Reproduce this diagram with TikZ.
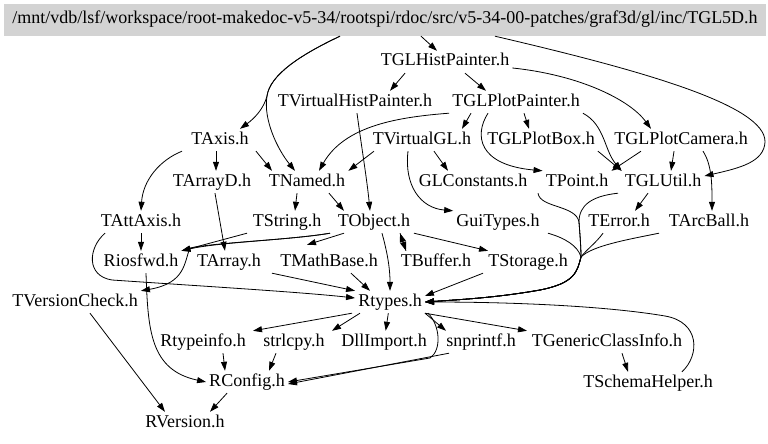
\documentclass[tikz,border=0pt]{standalone}
\usepackage{fontspec}
\setmainfont{Liberation Serif}
\usetikzlibrary{arrows.meta}
\definecolor{rootgray}{RGB}{211,211,211}
\begin{document}
\begin{tikzpicture}[x=1pt,y=-1pt,
  hdr/.style={font=\fontsize{18pt}{20pt}\selectfont, text height=12pt, text depth=4pt, inner xsep=3pt, inner ysep=3pt},
  dep/.style={-{Triangle[length=9pt,width=6pt]}, line width=0.8pt}]
\useasboundingbox (0,0) rectangle (768,444);
\node[hdr, fill=rootgray, minimum width=762pt, minimum height=32pt] (root) at (385,20) {/mnt/vdb/lsf/workspace/root-makedoc-v5-34/rootspi/rdoc/src/v5-34-00-patches/graf3d/gl/inc/TGL5D.h};
\node[hdr] (histp) at (445,62) {TGLHistPainter.h};
\node[hdr] (vhist) at (355,102) {TVirtualHistPainter.h};
\node[hdr] (plotp) at (516,102) {TGLPlotPainter.h};
\node[hdr] (axis) at (220,140) {TAxis.h};
\node[hdr] (vgl) at (422,140) {TVirtualGL.h};
\node[hdr] (plotbox) at (541,140) {TGLPlotBox.h};
\node[hdr] (plotcam) at (681,140) {TGLPlotCamera.h};
\node[hdr] (arrayd) at (212,182) {TArrayD.h};
\node[hdr] (named) at (307,182) {TNamed.h};
\node[hdr] (glconst) at (473,182) {GLConstants.h};
\node[hdr] (tpoint) at (577,182) {TPoint.h};
\node[hdr] (glutil) at (663,182) {TGLUtil.h};
\node[hdr] (attaxis) at (141,222) {TAttAxis.h};
\node[hdr] (tstring) at (287,222) {TString.h};
\node[hdr] (tobject) at (374,222) {TObject.h};
\node[hdr] (guitypes) at (498,222) {GuiTypes.h};
\node[hdr] (terror) at (619,222) {TError.h};
\node[hdr] (arcball) at (709,222) {TArcBall.h};
\node[hdr] (riosfwd) at (141,262) {Riosfwd.h};
\node[hdr] (tarray) at (229,262) {TArray.h};
\node[hdr] (mathbase) at (329,262) {TMathBase.h};
\node[hdr] (tbuffer) at (436,262) {TBuffer.h};
\node[hdr] (storage) at (528,262) {TStorage.h};
\node[hdr] (vcheck) at (75,302) {TVersionCheck.h};
\node[hdr] (rtypes) at (390,302) {Rtypes.h};
\node[hdr] (rtinfo) at (203,342) {Rtypeinfo.h};
\node[hdr] (strlcpy) at (294,342) {strlcpy.h};
\node[hdr] (dllimp) at (384,342) {DllImport.h};
\node[hdr] (snpr) at (481,342) {snprintf.h};
\node[hdr] (gcinfo) at (607,342) {TGenericClassInfo.h};
\node[hdr] (schema) at (648,383) {TSchemaHelper.h};
\node[hdr] (rconfig) at (247,382) {RConfig.h};
\node[hdr] (rversion) at (185,423) {RVersion.h};
\coordinate (merge) at (581,257);

% from TGL5D.h
\draw[dep] ([xshift=36pt]root.south) -- ([xshift=-8pt]histp.north);
\draw[dep] ([xshift=-45pt]root.south) .. controls (300,55) and (270,75) .. (267,96) .. controls (264,108) and (255,118) .. ([xshift=20pt]axis.north);
\draw[dep] ([xshift=-45pt]root.south) .. controls (300,55) and (270,75) .. (267,96) .. controls (263,120) and (278,150) .. ([xshift=-12pt]named.north);
\draw[dep] ([xshift=110pt]root.south) .. controls (640,70) and (766,105) .. (765,142) .. controls (764,162) and (740,168) .. ([yshift=6pt]glutil.east);

\draw[dep] ([xshift=-40pt]histp.south) -- ([xshift=35pt]vhist.north);
\draw[dep] ([xshift=20pt]histp.south) -- ([xshift=-30pt]plotp.north);
\draw[dep] ([yshift=-6pt]histp.east) .. controls (580,75) and (630,100) .. ([xshift=-30pt]plotcam.north);
\draw[dep] ([xshift=2pt]vhist.south) .. controls (362,150) and (367,180) .. ([xshift=-4pt]tobject.north);

% TGLPlotPainter.h
\draw[dep] (plotp.south west) .. controls (400,117) and (345,125) .. ([xshift=12pt]named.north);
\draw[dep] ([xshift=-45pt]plotp.south) -- ([xshift=40pt]vgl.north);
\draw[dep] ([xshift=8pt]plotp.south) -- ([xshift=-12pt]plotbox.north);
\draw[dep] ([xshift=-28pt]plotp.south) .. controls (474,135) and (478,165) .. (tpoint.north west);
\draw[dep] (plotp.south east) .. controls (605,125) and (604,150) .. (glutil.north west);
\draw[dep] (plotbox.south east) -- (glutil.north west);
\draw[dep] ([xshift=-40pt]plotcam.south) -- (tpoint.north east);
\draw[dep] ([xshift=-7pt]plotcam.south) -- ([xshift=8pt]glutil.north);
\draw[dep] ([xshift=22pt]plotcam.south) .. controls (712,165) and (712,185) .. ([xshift=3pt]arcball.north);

\draw[dep] ([xshift=-48pt]vgl.south) -- (named.north east);
\draw[dep] ([xshift=12pt]vgl.south) -- ([xshift=-25pt]glconst.north);
\draw[dep] ([xshift=-14pt]vgl.south) .. controls (404,185) and (420,208) .. (guitypes.north west);

\draw[dep] ([xshift=-4pt]axis.south) -- ([xshift=4pt]arrayd.north);
\draw[dep] ([xshift=36pt]axis.south) -- ([xshift=-35pt]named.north);
\draw[dep] ([xshift=-38pt]axis.south) .. controls (160,160) and (143,180) .. (attaxis.north);
\draw[dep] ([xshift=3pt]arrayd.south) -- ([xshift=-4pt]tarray.north);
\draw[dep] ([xshift=-10pt]named.south) -- ([xshift=8pt]tstring.north);
\draw[dep] ([xshift=22pt]named.south) -- ([xshift=-30pt]tobject.north);

% TString.h, TObject.h
\draw[dep] ([xshift=-40pt]tstring.south) -- (riosfwd.north east);
\draw[dep] ([xshift=-44pt]tobject.south) .. controls (290,240) and (220,242) .. (riosfwd.north east);
\draw[dep] ([xshift=-30pt]tobject.south) -- ([xshift=-22pt,yshift=6pt]mathbase.north);
\draw[dep] ([xshift=-44pt]tobject.south) .. controls (290,240) and (220,242) .. (190,248) .. controls (184,262) and (186,283) .. (vcheck.north east);
\draw[dep] ([xshift=8pt]tobject.south) .. controls (388,255) and (390,270) .. (rtypes.north);
\draw[dep] ([xshift=26pt]tobject.south) -- ([xshift=-30pt]tbuffer.north);
\draw[dep] ([xshift=-30pt]tbuffer.north) -- ([xshift=26pt]tobject.south);
\draw[dep] ([xshift=40pt]tobject.south) -- ([xshift=-40pt]storage.north);

\draw[dep] (attaxis) -- (riosfwd);
\draw[dep] ([xshift=-36pt]attaxis.south) .. controls (88,248) and (86,276) .. (112,280) .. controls (200,286) and (300,292) .. ([yshift=4pt]rtypes.west);
\draw[dep] ([xshift=43pt]tarray.south) -- (rtypes.north west);
\draw[dep] ([xshift=22pt]mathbase.south) -- ([xshift=-20pt]rtypes.north);
\draw[dep] ([xshift=-45pt]storage.south) -- ([yshift=6pt]rtypes.east);

% bundle into Rtypes.h
\draw[dep] ([xshift=-39pt]tpoint.south) .. controls (540,208) and (576,205) .. (579,222) .. controls (580,235) and (581,248) .. (merge) .. controls (577,272) and (575,283) .. (540,290) .. controls (500,297) and (470,299) .. (rtypes.east);
\draw[dep] ([xshift=-45pt]glutil.south) .. controls (592,196) and (579,205) .. (579,222) .. controls (580,235) and (581,248) .. (merge) .. controls (577,272) and (575,283) .. (540,290) .. controls (500,297) and (470,299) .. (rtypes.east);
\draw[dep] ([xshift=50pt]guitypes.south) .. controls (565,238) and (578,246) .. (merge) .. controls (577,272) and (575,283) .. (540,290) .. controls (500,297) and (470,299) .. (rtypes.east);
\draw[dep] ([xshift=-16pt]terror.south) .. controls (596,243) and (586,250) .. (merge) .. controls (577,272) and (575,283) .. (540,290) .. controls (500,297) and (470,299) .. (rtypes.east);
\draw[dep] ([xshift=-50pt]arcball.south) .. controls (625,240) and (592,246) .. (merge) .. controls (577,272) and (575,283) .. (540,290) .. controls (500,297) and (470,299) .. (rtypes.east);
\draw[dep] ([xshift=-15pt]glutil.south) -- ([xshift=16pt]terror.north);

\draw[dep] ([xshift=5pt]riosfwd.south) .. controls (148,330) and (150,370) .. (rconfig.west);
\draw[dep] ([xshift=15pt]vcheck.south) -- ([xshift=-20pt]rversion.north);

% from Rtypes.h
\draw[dep] ([xshift=-38pt]rtypes.south) -- ([xshift=50pt]rtinfo.north);
\draw[dep] ([xshift=-30pt]rtypes.south) -- ([xshift=38pt]strlcpy.north);
\draw[dep] (rtypes) -- (dllimp);
\draw[dep] ([xshift=35pt]rtypes.south) -- ([xshift=-35pt]snpr.north);
\draw[dep] (rtypes.south east) -- ([xshift=-80pt]gcinfo.north);
\draw[dep] ([xshift=38pt]rtypes.south) .. controls (440,325) and (442,350) .. (430,358) -- (rconfig.east);
\draw[dep] ([xshift=-32pt]snpr.south) -- ([yshift=-2pt]rconfig.east);

\draw[dep] ([xshift=20pt]rtinfo.south) -- ([xshift=-22pt]rconfig.north);
\draw[dep] ([xshift=-18pt]strlcpy.south) -- ([xshift=22pt]rconfig.north);
\draw[dep] ([xshift=-20pt]rconfig.south) -- ([xshift=25pt]rversion.north);
\draw[dep] ([xshift=15pt]gcinfo.south) -- ([xshift=-20pt]schema.north);
\draw[dep] ([xshift=34pt]schema.north) .. controls (700,355) and (700,322) .. (665,316) .. controls (600,305) and (500,302) .. (rtypes.east);
\end{tikzpicture}
\end{document}
